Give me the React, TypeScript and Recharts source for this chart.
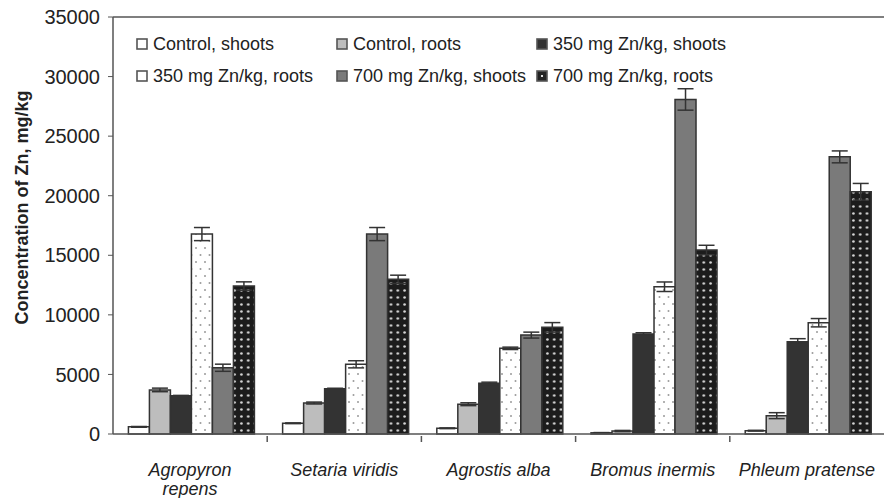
import { Bar, BarChart, ErrorBar, ReferenceLine, XAxis, YAxis } from "recharts";

const CATEGORIES = ["Agropyron\nrepens", "Setaria viridis", "Agrostis alba", "Bromus inermis", "Phleum pratense"];

const CONTROL_SHOOTS = [600, 900, 480, 100, 280];
const CONTROL_SHOOTS_ERR = [30, 30, 30, 20, 30];
const CONTROL_ROOTS = [3700, 2600, 2500, 250, 1540];
const CONTROL_ROOTS_ERR = [150, 80, 120, 50, 250];
const ZN350_SHOOTS = [3200, 3800, 4250, 8400, 7750];
const ZN350_SHOOTS_ERR = [40, 40, 100, 100, 250];
const ZN350_ROOTS = [16780, 5850, 7190, 12360, 9340];
const ZN350_ROOTS_ERR = [550, 300, 100, 400, 350];
const ZN700_SHOOTS = [5560, 16780, 8300, 28080, 23260];
const ZN700_SHOOTS_ERR = [300, 550, 250, 900, 500];
const ZN700_ROOTS = [12420, 12980, 8950, 15440, 20330];
const ZN700_ROOTS_ERR = [350, 350, 400, 400, 700];

const Y_TICKS = [0, 5000, 10000, 15000, 20000, 25000, 30000, 35000];

const SERIES = [
  { key: "cs", name: "Control, shoots", values: CONTROL_SHOOTS, err: CONTROL_SHOOTS_ERR, fill: "#ffffff" },
  { key: "cr", name: "Control, roots", values: CONTROL_ROOTS, err: CONTROL_ROOTS_ERR, fill: "#bdbdbd" },
  { key: "s350", name: "350 mg Zn/kg, shoots", values: ZN350_SHOOTS, err: ZN350_SHOOTS_ERR, fill: "#333333" },
  { key: "r350", name: "350 mg Zn/kg, roots", values: ZN350_ROOTS, err: ZN350_ROOTS_ERR, fill: "url(#dotsLight)" },
  { key: "s700", name: "700 mg Zn/kg, shoots", values: ZN700_SHOOTS, err: ZN700_SHOOTS_ERR, fill: "#7a7a7a" },
  { key: "r700", name: "700 mg Zn/kg, roots", values: ZN700_ROOTS, err: ZN700_ROOTS_ERR, fill: "url(#dotsDark)" },
];

const data = CATEGORIES.map((name, i) => {
  const row: Record<string, string | number> = { name };
  SERIES.forEach((s) => {
    row[s.key] = s.values[i];
    row[s.key + "Err"] = s.err[i];
  });
  return row;
});

const W = 884;
const H = 498;
const Y_AXIS_W = 113;
const BAND = (W - Y_AXIS_W) / CATEGORIES.length;
const FONT = "'Liberation Sans', Arial, sans-serif";
const INK = "#222";

function CategoryTick(props: any) {
  const { x, y, payload, index } = props;
  const lines = String(payload.value).split("\n");
  return (
    <g>
      {index > 0 && <line x1={x - BAND / 2} x2={x - BAND / 2} y1={y} y2={y + 6} stroke="#555" strokeWidth={1.5} />}
      {lines.map((ln, i) => (
        <text
          key={i}
          x={x}
          y={y + 40 + i * 19}
          textAnchor="middle"
          fontFamily={FONT}
          fontStyle="italic"
          fontSize={18}
          fill={INK}
        >
          {ln}
        </text>
      ))}
    </g>
  );
}

function YTitle(props: any) {
  const vb = props.viewBox || {};
  const cx = 22;
  const cy = (vb.y ?? 17) + (vb.height ?? 417) / 2 - 18;
  return (
    <text
      x={cx}
      y={cy}
      transform={`rotate(-90, ${cx}, ${cy})`}
      textAnchor="middle"
      dominantBaseline="central"
      fontFamily={FONT}
      fontWeight="bold"
      fontSize={18}
      fill={INK}
    >
      Concentration of Zn, mg/kg
    </text>
  );
}

function Swatch({ s }: { s: (typeof SERIES)[number] }) {
  return (
    <svg width={12} height={12} style={{ display: "block" }}>
      <rect x={1} y={1} width={10} height={10} fill={s.fill.startsWith("url") ? (s.key === "r700" ? "#222" : "#fff") : s.fill} stroke="#555" strokeWidth={1.6} />
      {s.key === "r700" && <rect x={5} y={5} width={2} height={2} fill="#ddd" />}
    </svg>
  );
}

function LegendGrid() {
  return (
    <div
      style={{
        position: "absolute",
        left: 136,
        top: 28,
        display: "grid",
        gridTemplateColumns: "200px 200px 200px",
        gridAutoRows: "32px",
        fontFamily: FONT,
        fontSize: 18,
        color: INK,
      }}
    >
      {SERIES.map((s) => (
        <div key={s.key} style={{ display: "flex", alignItems: "center", gap: 5, whiteSpace: "nowrap" }}>
          <Swatch s={s} />
          <span>{s.name}</span>
        </div>
      ))}
    </div>
  );
}

export default function App() {
  return (
    <div style={{ position: "absolute", left: 0, top: 0, width: W, height: H, background: "#fff", overflow: "hidden" }}>
      <BarChart
        width={W}
        height={H}
        data={data}
        margin={{ top: 17, right: 0, bottom: 0, left: 0 }}
        barCategoryGap="10%"
        barGap={0}
      >
        <defs>
          <pattern id="dotsLight" patternUnits="userSpaceOnUse" width={9} height={14}>
            <rect width={9} height={14} fill="#ffffff" />
            <circle cx={2.5} cy={3} r={1} fill="#9a9a9a" />
            <circle cx={7} cy={10} r={1} fill="#9a9a9a" />
          </pattern>
          <pattern id="dotsDark" patternUnits="userSpaceOnUse" width={6.8} height={7}>
            <rect width={6.8} height={7} fill="#1c1c1c" />
            <circle cx={3.4} cy={3.5} r={1.3} fill="#d8d8d8" />
          </pattern>
        </defs>
        <XAxis
          dataKey="name"
          height={64}
          interval={0}
          tickLine={false}
          tickSize={0}
          axisLine={{ stroke: "#555", strokeWidth: 1.5 }}
          tick={<CategoryTick />}
        />
        <YAxis
          width={Y_AXIS_W}
          domain={[0, 35000]}
          ticks={Y_TICKS}
          interval={0}
          tickSize={5}
          tickMargin={8}
          axisLine={{ stroke: "#555", strokeWidth: 1.5 }}
          tickLine={{ stroke: "#555" }}
          tick={{ fontFamily: FONT, fontSize: 20, fill: INK }}
          label={<YTitle />}
        />
        <ReferenceLine y={35000} stroke="#555" strokeWidth={1.5} />
        {SERIES.map((s) => (
          <Bar key={s.key} dataKey={s.key} name={s.name} fill={s.fill} stroke="#333" strokeWidth={1.5} isAnimationActive={false}>
            <ErrorBar dataKey={s.key + "Err"} width={8} stroke="#333" strokeWidth={1.5} />
          </Bar>
        ))}
      </BarChart>
      <LegendGrid />
    </div>
  );
}
